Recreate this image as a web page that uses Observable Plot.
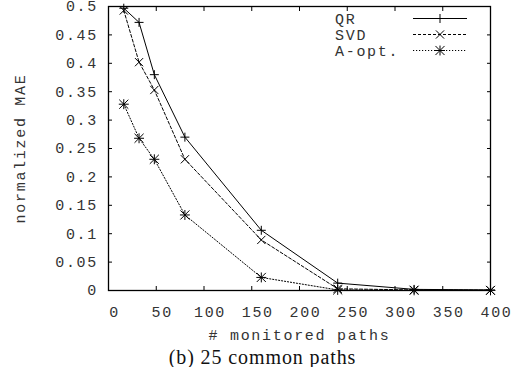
<!DOCTYPE html>
<html><head><meta charset="utf-8">
<script src="https://cdn.jsdelivr.net/npm/d3@7"></script>
<script src="https://cdn.jsdelivr.net/npm/@observablehq/plot@0.6"></script>
<style>
body{margin:0;background:#fff;}
#wrap{position:relative;width:525px;}
#legend{position:absolute;left:0;top:0;pointer-events:none;}
#caption{font-family:"Liberation Serif","Times New Roman",serif;font-size:20px;line-height:20px;letter-spacing:0.9px;text-align:center;width:525px;color:#111;}
</style></head><body>
<div id="wrap"></div>
<div id="caption">(b) 25 common paths</div>
<script>
// ---- data ----
const paths = [16, 32, 48, 80, 160, 240, 320, 400];
const qr    = [0.497, 0.472, 0.380, 0.270, 0.106, 0.013, 0.002, 0.001];
const svd   = [0.493, 0.402, 0.353, 0.231, 0.089, 0.003, 0.001, 0.0005];
const aopt  = [0.328, 0.268, 0.231, 0.133, 0.023, 0.001, 0.0003, 0.0002];
const seriesNames = ["QR", "SVD", "A-opt."];
const xTicks = [0, 50, 100, 150, 200, 250, 300, 350, 400];
const xTickLabels = ["0", "50", "100", "150", "200", "250", "300", "350", "400"];
const yTicks = [0, 0.05, 0.1, 0.15, 0.2, 0.25, 0.3, 0.35, 0.4, 0.45, 0.5];
const yTickLabels = ["0", "0.05", "0.1", "0.15", "0.2", "0.25", "0.3", "0.35", "0.4", "0.45", "0.5"];
const xLabel = "# monitored paths";
const yLabel = "normalized MAE";

const values = [qr, svd, aopt];
const table = seriesNames.flatMap((name, i) => paths.map((x, j) => ({series: name, x, y: values[i][j]})));

// styles per series
const dashes = ["none", "3,2", "1.2,1.8"];
const symbols = [["plus"], ["times"], ["plus", "times"]];
const radii = {plus: [3, 3, 3.3], times: [3.8, 3.8, 4.2]};
const d3sym = {plus: d3.symbolPlus, times: d3.symbolTimes};

const marks = [];
seriesNames.forEach((name, i) => {
  const rows = table.filter(d => d.series === name);
  marks.push(Plot.line(rows, {x: "x", y: "y", stroke: "#000", strokeWidth: 1, strokeDasharray: dashes[i]}));
  symbols[i].forEach(s => {
    marks.push(Plot.dot(rows, {x: "x", y: "y", symbol: s, r: radii[s][i], stroke: "#000", strokeWidth: 1, fill: "none"}));
  });
});

const xFmt = d => xTickLabels[xTicks.indexOf(d)];
const yFmt = d => yTickLabels[yTicks.indexOf(d)];

const chart = Plot.plot({
  width: 525,
  height: 347,
  marginLeft: 108,
  marginRight: 35,
  marginTop: 6,
  marginBottom: 57,
  style: {fontFamily: "'Liberation Mono', 'Courier New', monospace", fontSize: "15px", letterSpacing: "1.7px", color: "#333", background: "#fff"},
  x: {domain: [0, 400]},
  y: {domain: [0, 0.5]},
  marks: [
    Plot.axisX(xTicks, {anchor: "bottom", tickSize: 0, tickPadding: 16, dx: 6, tickFormat: xFmt, label: xLabel, labelAnchor: "center", labelOffset: 49, labelArrow: "none"}),
    Plot.axisX(xTicks, {anchor: "bottom", tickSize: 4, dy: -4, tickFormat: () => "", label: null, stroke: "#000"}),
    Plot.axisX(xTicks, {anchor: "top", tickSize: 4, dy: 4, tickFormat: () => "", label: null, stroke: "#000"}),
    Plot.axisY(yTicks, {anchor: "left", tickSize: 0, tickPadding: 10.5, tickFormat: yFmt, label: yLabel, labelAnchor: "center", labelOffset: 94, labelArrow: "none"}),
    Plot.axisY(yTicks, {anchor: "left", tickSize: 4, dx: 4, tickFormat: () => "", label: null, stroke: "#000"}),
    Plot.axisY(yTicks, {anchor: "right", tickSize: 4, dx: -4, tickFormat: () => "", label: null, stroke: "#000"}),
    ...marks,
    Plot.frame({stroke: "#000", strokeWidth: 1.3})
  ]
});
document.getElementById("wrap").appendChild(chart);

// ---- legend (overlay, top-right inside the frame) ----
const lg = d3.select("#wrap").append("svg").attr("id", "legend").attr("width", 525).attr("height", 70);
const rowY = [18.5, 34.5, 50.5];
seriesNames.forEach((name, i) => {
  const y = rowY[i];
  lg.append("text").attr("x", 335).attr("y", y).attr("dy", "0.35em")
    .attr("font-family", "'Liberation Mono', 'Courier New', monospace").attr("font-size", 15)
    .attr("letter-spacing", "1.7px").attr("fill", "#333").text(name);
  lg.append("line").attr("x1", 413).attr("x2", 467).attr("y1", y).attr("y2", y)
    .attr("stroke", "#000").attr("stroke-width", 1).attr("stroke-dasharray", dashes[i]);
  symbols[i].forEach(s => {
    const r = radii[s][i];
    lg.append("path").attr("transform", `translate(440,${y})`)
      .attr("d", d3.symbol(d3sym[s], r * r * Math.PI)())
      .attr("fill", "none").attr("stroke", "#000").attr("stroke-width", 1);
  });
});
</script>
</body></html>
